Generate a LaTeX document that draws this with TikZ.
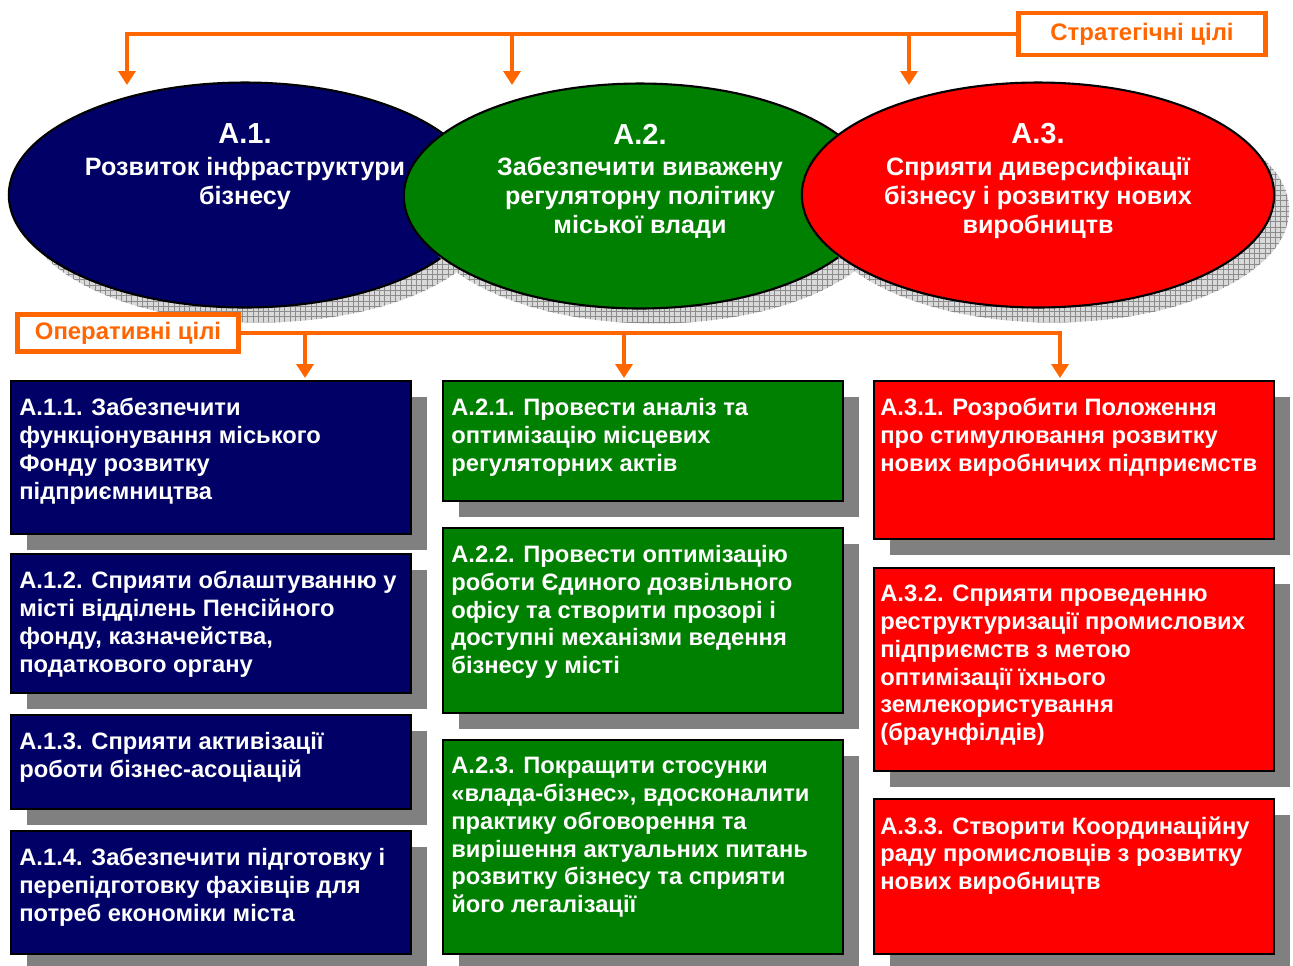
\documentclass[tikz,border=0pt]{standalone}
\usepackage{fontspec}
\setmainfont{Liberation Sans}
\usetikzlibrary{arrows.meta,shapes.geometric,shadows,patterns}

\definecolor{navy}{RGB}{0,0,102}
\definecolor{leaf}{RGB}{0,128,0}
\definecolor{scarlet}{RGB}{255,0,0}
\definecolor{flame}{RGB}{255,102,0}

\tikzset{
    goal/.style={ellipse, draw=black, line width=1.2pt, minimum width=9.45cm, minimum height=4.5cm,
        drop shadow={shadow xshift=0.3cm, shadow yshift=-0.3cm, opacity=1, fill=gray!30,
            postaction={pattern=grid, pattern color=gray!90}}},
    goaltitle/.style={text=white, font=\bfseries\fontsize{16.5}{17}\selectfont},
    goaltext/.style={text=white, align=center, anchor=north, font=\bfseries\fontsize{14.3}{16.5}\selectfont},
    task/.style={rectangle, draw=black, line width=0.9pt, anchor=north west, minimum width=8cm,
        drop shadow={shadow xshift=0.32cm, shadow yshift=-0.32cm, opacity=1, fill=gray}},
    tasktext/.style={text=white, align=left, anchor=north west, inner sep=0pt,
        font=\bfseries\fontsize{13.5}{15.8}\selectfont},
    tag/.style={draw=flame, line width=2.4pt, fill=white, text=flame, font=\bfseries\fontsize{13.6}{15}\selectfont},
    flow/.style={draw=flame, line width=2.6pt, -{Triangle[length=0.28cm, width=0.34cm]}}
}

\begin{document}
\begin{tikzpicture}[x=0.02cm, y=-0.02cm]
        \useasboundingbox (0,0) rectangle (1293,965);
        \node[goal, fill=navy] (e1) at (245,195) {};
        \node[goal, fill=leaf] (e2) at (640,196) {};
        \node[goal, fill=scarlet] (e3) at (1038,195) {};
        \node[goaltitle] (e1t) at (245,134) {А.1.};
        \node[goaltitle] (e2t) at (640,134) {А.2.};
        \node[goaltitle] (e3t) at (1038,134) {А.3.};
        \node[goaltext] (e1b) at (245,151) {Розвиток інфраструктури\\бізнесу};
        \node[goaltext] (e2b) at (640,151) {Забезпечити виважену\\регуляторну політику\\міської влади};
        \node[goaltext] (e3b) at (1038,151) {Сприяти диверсифікації\\бізнесу і розвитку нових\\виробництв};

        \node[tag, minimum width=4.94cm, minimum height=0.84cm] (strat) at (1142,34) {Стратегічні цілі};
        \coordinate (s1) at (127,85);
        \coordinate (s2) at (512,85);
        \coordinate (s3) at (909,85);
        \draw[flow] (strat.west) -| (s1);
        \draw[flow] (strat.west -| s2) -- (s2);
        \draw[flow] (strat.west -| s3) -- (s3);

        \node[tag, minimum width=4.42cm, minimum height=0.74cm] (oper) at (128,333) {Оперативні цілі};
        \coordinate (o1) at (305,378);
        \coordinate (o2) at (624,378);
        \coordinate (o3) at (1060,378);
        \draw[flow] (oper.east) -| (o3);
        \draw[flow] (oper.east -| o1) -- (o1);
        \draw[flow] (oper.east -| o2) -- (o2);

        \node[task, fill=navy, minimum height=3.06cm] (a11) at (10,380) {};
        \node[task, fill=navy, minimum height=2.78cm] (a12) at (10,553) {};
        \node[task, fill=navy, minimum height=1.88cm] (a13) at (10,714) {};
        \node[task, fill=navy, minimum height=2.46cm] (a14) at (10,830) {};
        \node[task, fill=leaf, minimum height=2.4cm] (a21) at (442,380) {};
        \node[task, fill=leaf, minimum height=3.7cm] (a22) at (442,527) {};
        \node[task, fill=leaf, minimum height=4.28cm] (a23) at (442,739) {};
        \node[task, fill=scarlet, minimum height=3.16cm] (a31) at (873,380) {};
        \node[task, fill=scarlet, minimum height=4.06cm] (a32) at (873,567) {};
        \node[task, fill=scarlet, minimum height=3.1cm] (a33) at (873,798) {};

        \node[tasktext] (a11t) at ([shift={(9,18)}]a11.north west) {А.1.1. Забезпечити\\функціонування міського\\Фонду розвитку\\підприємництва};
        \node[tasktext] (a12t) at ([shift={(9,18)}]a12.north west) {А.1.2. Сприяти облаштуванню у\\місті відділень Пенсійного\\фонду, казначейства,\\податкового органу};
        \node[tasktext] (a13t) at ([shift={(9,18)}]a13.north west) {А.1.3. Сприяти активізації\\роботи бізнес-асоціацій};
        \node[tasktext] (a14t) at ([shift={(9,18)}]a14.north west) {А.1.4. Забезпечити підготовку і\\перепідготовку фахівців для\\потреб економіки міста};
        \node[tasktext] (a21t) at ([shift={(9,18)}]a21.north west) {А.2.1. Провести аналіз та\\оптимізацію місцевих\\регуляторних актів};
        \node[tasktext] (a22t) at ([shift={(9,18)}]a22.north west) {А.2.2. Провести оптимізацію\\роботи Єдиного дозвільного\\офісу та створити прозорі і\\доступні механізми ведення\\бізнесу у місті};
        \node[tasktext] (a23t) at ([shift={(9,18)}]a23.north west) {А.2.3. Покращити стосунки\\«влада-бізнес», вдосконалити\\практику обговорення та\\вирішення актуальних питань\\розвитку бізнесу та сприяти\\його легалізації};
        \node[tasktext] (a31t) at ([shift={(7,18)}]a31.north west) {А.3.1. Розробити Положення\\про стимулювання розвитку\\нових виробничих підприємств};
        \node[tasktext] (a32t) at ([shift={(7,18)}]a32.north west) {А.3.2. Сприяти проведенню\\реструктуризації промислових\\підприємств з метою\\оптимізації їхнього\\землекористування\\(браунфілдів)};
        \node[tasktext] (a33t) at ([shift={(7,18)}]a33.north west) {А.3.3. Створити Координаційну\\раду промисловців з розвитку\\нових виробництв};
    \end{tikzpicture}
\end{document}
